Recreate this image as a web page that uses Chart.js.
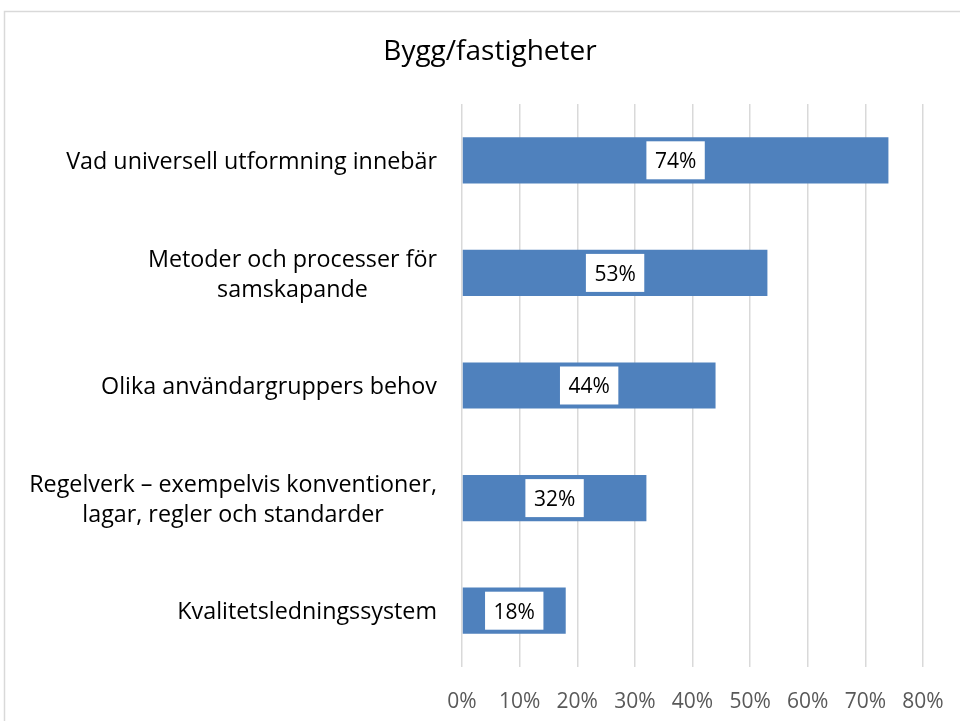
<!DOCTYPE html>
<html>
<head>
<meta charset="utf-8">
<script src="https://cdn.jsdelivr.net/npm/chart.js@4"></script>
<style>
  html, body { margin: 0; padding: 0; background: #fff; }
  #wrap { width: 960px; height: 721px; position: relative; }
</style>
</head>
<body>
<div id="wrap"><canvas id="c1" width="960" height="721"></canvas></div>
<script>
// data
var title = "Bygg/fastigheter";
var categories = [
  ["Vad universell utformning innebär"],
  ["Metoder och processer för", "samskapande"],
  ["Olika användargruppers behov"],
  ["Regelverk – exempelvis konventioner,", "lagar, regler och standarder"],
  ["Kvalitetsledningssystem"]
];
var values = [74, 53, 44, 32, 18];
var xTicks = [0, 10, 20, 30, 40, 50, 60, 70, 80];

var FONT = "'Open Sans', Lato, sans-serif";

// frame + title + left labels + value boxes
var decor = {
  id: "decor",
  beforeDraw: function (chart) {
    var ctx = chart.ctx;
    ctx.save();
    ctx.fillStyle = "#fff";
    ctx.fillRect(0, 0, chart.width, chart.height);
    ctx.strokeStyle = "#d9d9d9";
    ctx.lineWidth = 1.5;
    ctx.strokeRect(4.5, 11.5, 1000, 1000);
    ctx.restore();
  },
  afterDraw: function (chart) {
    var ctx = chart.ctx;
    var y = chart.scales.y;
    ctx.save();
    ctx.fillStyle = "#000";
    ctx.font = "28px " + FONT;
    ctx.textAlign = "center";
    ctx.textBaseline = "middle";
    ctx.fillText(title, 490, 52);

    // category labels: block right aligned, lines centred
    ctx.font = "23.3px " + FONT;
    var right = 437, lh = 30;
    categories.forEach(function (lines, i) {
      var cy = y.getPixelForValue(i) + 2;
      var maxW = 0;
      lines.forEach(function (l) { maxW = Math.max(maxW, ctx.measureText(l).width); });
      var cx = right - maxW / 2;
      var y0 = cy - (lines.length - 1) * lh / 2;
      lines.forEach(function (l, k) { ctx.fillText(l, cx, y0 + k * lh); });
    });

    // value labels in white boxes
    ctx.font = "21px " + FONT;
    var meta = chart.getDatasetMeta(0);
    meta.data.forEach(function (bar, i) {
      var cx = (bar.x + bar.base) / 2;
      var txt = values[i] + "%";
      var w = ctx.measureText(txt).width + 17;
      ctx.fillStyle = "#fff";
      ctx.fillRect(cx - w / 2, bar.y - 19, w, 38);
      ctx.fillStyle = "#000";
      ctx.fillText(txt, cx, bar.y + 2);
    });
    ctx.restore();
  }
};

new Chart(document.getElementById("c1").getContext("2d"), {
  type: "bar",
  data: {
    labels: categories,
    datasets: [{
      data: values,
      backgroundColor: "#4f81bd",
      borderWidth: 0,
      categoryPercentage: 1,
      barPercentage: 0.41
    }]
  },
  options: {
    indexAxis: "y",
    responsive: false,
    animation: false,
    devicePixelRatio: 1,
    layout: { padding: { left: 462, right: 37, top: 104, bottom: 0 } },
    plugins: { legend: { display: false }, title: { display: false }, tooltip: { enabled: false } },
    scales: {
      x: {
        min: 0,
        max: 80,
        afterBuildTicks: function (s) { s.ticks = xTicks.map(function (v) { return { value: v }; }); },
        afterFit: function (s) {
          s.height = 54;
          s.paddingLeft = 0;
          s.paddingRight = 0;
        },
        grid: { color: "#d9d9d9", lineWidth: 1.5, drawTicks: false },
        border: { display: false },
        ticks: {
          padding: 22,
          color: "#595959",
          font: { family: FONT, size: 21 },
          callback: function (v) { return v + "%"; }
        }
      },
      y: {
        afterFit: function (s) { s.width = 0; },
        grid: { display: false },
        border: { display: false },
        ticks: { display: false }
      }
    }
  },
  plugins: [decor]
});
</script>
</body>
</html>
